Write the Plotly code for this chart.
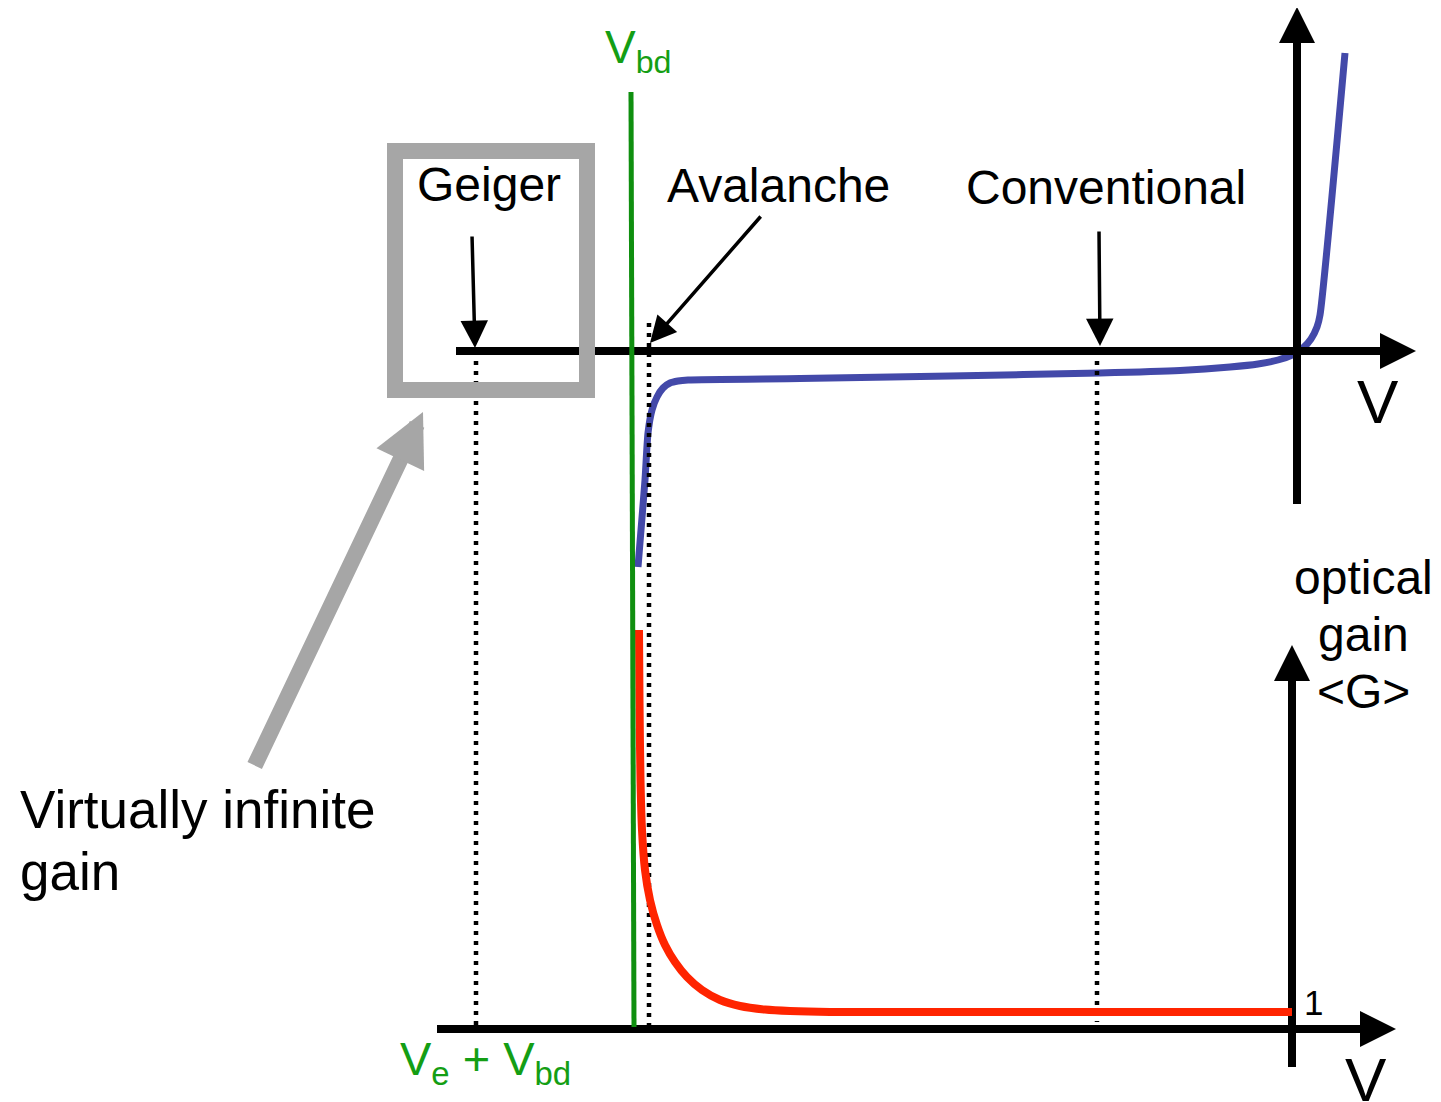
import plotly.graph_objects as go

W, H = 1441, 1102
PAGE_MARGIN = 8  # default body margin of the html page
FONT = "Liberation Sans, Arial, Helvetica, sans-serif"
BLACK = "#000000"
GRAY = "#a6a6a6"
GREEN_LINE = "#0f8f0f"
GREEN_TEXT = "#149e14"
BLUE = "#4349a9"
RED = "#ff2400"

# ---- curves (diagram coordinates, y grows downwards) ----
blue_x = [638, 641, 645, 648, 652, 657, 663, 670, 678, 688, 800, 950, 1100, 1180, 1230, 1258, 1278, 1292, 1303, 1311, 1317, 1320, 1345]
blue_y = [567, 530, 480, 433, 410, 397, 388, 383, 381, 380, 378.5, 376, 373, 370.5, 367, 364, 360, 355, 348, 339, 327, 315, 53]

red_x = [639, 639.5, 640.5, 642, 645, 650, 657, 665, 675, 687, 702, 720, 740, 765, 790, 830, 1292]
red_y = [630, 700, 780, 830, 870, 900, 925, 945, 962, 977, 990, 1000, 1006, 1009.5, 1011, 1012, 1012]

green_x = [631, 634]
green_y = [92, 1027]

# dotted guide lines
dot_x = [476, 649, 1097]
dot_top = [351, 323, 351]
dot_bottom = [1025, 1026, 1022]

# axes (line part)
axis_x0 = [456, 1297, 437, 1292]
axis_y0 = [351, 504, 1029, 1067]
axis_x1 = [1390, 1297, 1370, 1292]
axis_y1 = [351, 30, 1029, 670]
# axes arrow heads (tip positions)
axis_tip_x = [1416, 1297, 1396, 1292]
axis_tip_y = [351, 7, 1029, 645]

# gray box (stroke centre line)
box_x0, box_x1 = 395, 587
box_y0, box_y1 = 151, 390

# pointer arrows: tail -> tip
ptr_tail_x = [472, 762, 1099, 254]
ptr_tail_y = [235, 215, 230, 767]
ptr_tip_x = [475, 650, 1100, 423]
ptr_tip_y = [348, 343, 346, 412]
ptr_width = [3.5, 3.5, 3.5, 16]
ptr_size = [1.57, 1.5, 1.57, 0.66]
ptr_color = [BLACK, BLACK, BLACK, GRAY]

# labels
lbl_text = ["Geiger", "Avalanche", "Conventional", "Virtually infinite", "gain",
            "optical", "gain", "&lt;G&gt;", "1", "V", "V"]
lbl_x = [489, 778, 1106, 18, 18, 1363, 1363, 1363, 1313, 1378, 1366]
lbl_y = [184, 185, 187, 809, 871, 577, 634, 691, 1002, 401, 1079]
lbl_size = [48, 48, 48, 53, 53, 48, 48, 48, 35, 62, 62]
lbl_anchor = ["center", "center", "center", "left", "left", "center", "center", "center", "center", "center", "center"]

sub_text = ["V<sub>bd</sub>", "V<sub>e</sub> + V<sub>bd</sub>"]
sub_x = [603, 398]
sub_y = [19, 1030]
sub_size = [46, 47]

fig = go.Figure()

# blue I-V curve
fig.add_trace(go.Scatter(x=blue_x, y=blue_y, mode="lines",
                         line=dict(color=BLUE, width=7, shape="spline", smoothing=0.6),
                         hoverinfo="skip"))

# dotted lines
for xd, yt, yb in zip(dot_x, dot_top, dot_bottom):
    fig.add_trace(go.Scatter(x=[xd, xd], y=[yt, yb], mode="lines",
                             line=dict(color=BLACK, width=4.5, dash="4px,6px"),
                             hoverinfo="skip"))

# axes lines
for x0, y0, x1, y1 in zip(axis_x0, axis_y0, axis_x1, axis_y1):
    fig.add_trace(go.Scatter(x=[x0, x1], y=[y0, y1], mode="lines",
                             line=dict(color=BLACK, width=8), hoverinfo="skip"))

# red gain curve
fig.add_trace(go.Scatter(x=red_x, y=red_y, mode="lines",
                         line=dict(color=RED, width=8, shape="spline", smoothing=0.8),
                         hoverinfo="skip"))

# green breakdown line
fig.add_trace(go.Scatter(x=green_x, y=green_y, mode="lines",
                         line=dict(color=GREEN_LINE, width=5), hoverinfo="skip"))

shapes = [dict(type="rect", xref="x", yref="y", x0=box_x0, x1=box_x1, y0=box_y0, y1=box_y1,
               line=dict(color=GRAY, width=16), fillcolor="rgba(0,0,0,0)", layer="above")]

annotations = []
# axes arrow heads
for x1, y1, tx, ty in zip(axis_x1, axis_y1, axis_tip_x, axis_tip_y):
    annotations.append(dict(x=tx, y=ty, ax=x1, ay=y1, xref="x", yref="y", axref="x", ayref="y",
                            text="", showarrow=True, arrowhead=2, arrowsize=0.9, arrowwidth=8,
                            arrowcolor=BLACK, standoff=0, startstandoff=0))
# pointer arrows
for tx, ty, hx, hy, w, s, c in zip(ptr_tail_x, ptr_tail_y, ptr_tip_x, ptr_tip_y, ptr_width, ptr_size, ptr_color):
    annotations.append(dict(x=hx, y=hy, ax=tx, ay=ty, xref="x", yref="y", axref="x", ayref="y",
                            text="", showarrow=True, arrowhead=2, arrowsize=s, arrowwidth=w,
                            arrowcolor=c, standoff=0, startstandoff=0))
# labels
for t, x, y, s, a in zip(lbl_text, lbl_x, lbl_y, lbl_size, lbl_anchor):
    annotations.append(dict(x=x, y=y, xref="x", yref="y", text=t, showarrow=False,
                            xanchor=a, yanchor="middle",
                            font=dict(family=FONT, size=s, color=BLACK)))
for t, x, y, s in zip(sub_text, sub_x, sub_y, sub_size):
    annotations.append(dict(x=x, y=y, xref="x", yref="y", text=t, showarrow=False,
                            xanchor="left", yanchor="top",
                            font=dict(family=FONT, size=s, color=GREEN_TEXT)))

fig.update_layout(
    width=W - PAGE_MARGIN, height=H - PAGE_MARGIN, margin=dict(l=0, r=0, t=0, b=0),
    paper_bgcolor="white", plot_bgcolor="white", showlegend=False,
    xaxis=dict(range=[PAGE_MARGIN, W], visible=False, fixedrange=True),
    yaxis=dict(range=[H, PAGE_MARGIN], visible=False, fixedrange=True),
    annotations=annotations, shapes=shapes,
)

fig.write_html("out.html", config={"displayModeBar": False})
